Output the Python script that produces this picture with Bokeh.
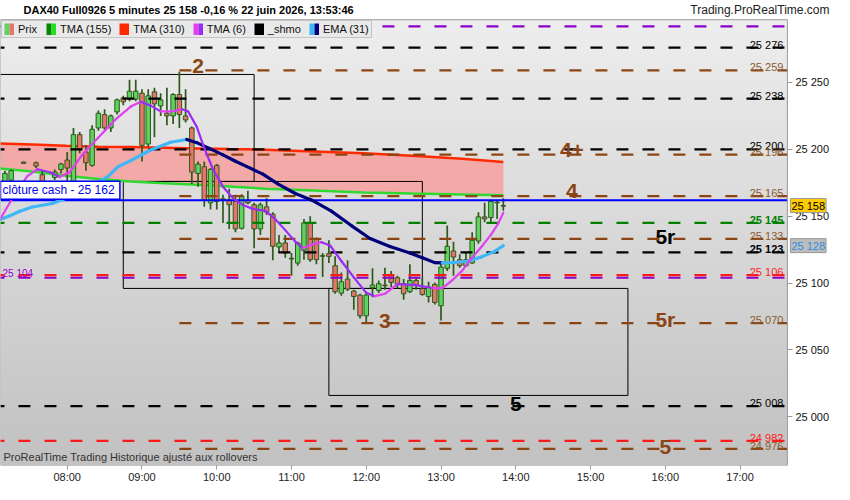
import numpy as np
from bokeh.plotting import figure
from bokeh.models import (Range1d, FixedTicker, Label, Legend, LegendItem,
                          ColumnDataSource, LinearAxis)
from bokeh.core.properties import value
from bokeh.embed import file_html
from bokeh.resources import INLINE

FONT = "Liberation Sans"

# ------------------------------------------------------------------ data
candle_time = ["07:10","07:15","07:25","07:35","07:40","07:45","07:50","07:55",
               "08:00","08:05","08:10","08:15","08:20","08:25","08:30","08:35","08:40","08:45","08:50","08:55",
               "09:00","09:05","09:10","09:15","09:20","09:25","09:30","09:35","09:40","09:45","09:50","09:55",
               "10:00","10:05","10:10","10:15","10:20","10:25","10:30","10:35","10:40","10:45","10:50","10:55",
               "11:00","11:05","11:10","11:15","11:20","11:25","11:30","11:35","11:40","11:45","11:50","11:55",
               "12:00","12:05","12:10","12:15","12:20","12:25","12:30","12:35","12:40","12:45","12:50","12:55",
               "13:00","13:05","13:10","13:15","13:20","13:25","13:30","13:35","13:40","13:45","13:50"]
candle_open = [25175, 25177, 25190.5, 25190, 25181, 25175, 25179, 25185,
               25192, 25176, 25211, 25198, 25188, 25216, 25226, 25216, 25228, 25238.5, 25238, 25237.5,
               25242, 25204, 25243, 25232.5, 25227, 25225, 25241, 25225, 25216, 25182, 25187, 25160,
               25188, 25163, 25162, 25161, 25141, 25162, 25158.5, 25140.5, 25157, 25151.5, 25127, 25130,
               25118.5, 25115, 25124.5, 25145, 25133, 25120.5, 25122, 25113, 25092.5, 25103, 25094, 25091,
               25075.5, 25096.5, 25094.5, 25098.5, 25106, 25104, 25099.5, 25093.5, 25102, 25096, 25090, 25099,
               25083, 25111, 25124, 25117.5, 25113, 25115, 25131.5, 25149.5, 25149, 25160.5, 25157.5]
candle_high = [25184, 25185, 25191, 25191, 25184, 25176, 25185, 25190,
               25198, 25216, 25213, 25203, 25218, 25229, 25230, 25226, 25238, 25240, 25252, 25252,
               25245, 25245, 25246, 25242, 25246, 25242, 25258, 25245, 25217, 25191, 25191, 25186,
               25189, 25166, 25170.5, 25166, 25166.5, 25169, 25160, 25160, 25163.5, 25153, 25136, 25136,
               25122.5, 25131, 25148, 25150, 25134, 25122.5, 25132, 25120, 25108, 25117, 25095, 25092,
               25093.5, 25111, 25102, 25111.5, 25109, 25105.5, 25103, 25114, 25104.5, 25104, 25101, 25100.5,
               25115, 25143, 25131, 25121.5, 25122.5, 25138, 25153, 25160, 25162.5, 25162, 25163.5]
candle_low = [25173, 25176, 25189, 25186, 25172, 25170, 25177, 25182,
              25176, 25175, 25197, 25184, 25187, 25214, 25214, 25213, 25226, 25233, 25236, 25236,
              25191, 25202, 25209, 25225, 25218, 25219, 25216, 25220, 25174, 25172, 25157, 25155,
              25155, 25145, 25140.5, 25138, 25140, 25159, 25126, 25136, 25151, 25117, 25122.5, 25119,
              25105.5, 25113, 25117.5, 25116, 25114, 25104.5, 25115, 25092, 25090.5, 25094, 25080, 25073.5,
              25070, 25089.5, 25092.5, 25095, 25097, 25096, 25087.5, 25092.5, 25095, 25090.5, 25085.5, 25084,
              25072, 25109, 25105.5, 25111.5, 25112, 25114.5, 25129.5, 25145.5, 25145, 25148, 25154]
candle_close = [25182, 25184, 25189.5, 25187.5, 25174, 25172, 25183, 25189,
                25186, 25211, 25200, 25190, 25215, 25227, 25216, 25225, 25237, 25235.5, 25243.5, 25243.5,
                25203, 25240, 25234, 25237, 25225, 25241, 25226, 25222, 25183, 25189, 25162, 25185,
                25161, 25162, 25158.5, 25140.5, 25165, 25160, 25140.5, 25158.5, 25153, 25127.5, 25130, 25122.5,
                25118, 25130, 25145, 25117.5, 25117.5, 25120, 25120, 25093.5, 25101, 25095.5, 25090, 25075.5,
                25091, 25098.5, 25099.5, 25098, 25100.5, 25099, 25092, 25102, 25098.5, 25091.5, 25097, 25085.5,
                25112, 25127.5, 25119.5, 25113, 25117.5, 25132, 25149.5, 25148, 25161, 25160, 25158]

# TMA (155) and TMA (310)
tma_time = ["07:06","07:32","07:59","08:25","08:51","09:18","09:44","10:10","10:39",
            "11:18","11:58","12:37","13:17","13:50"]
tma155 = [25185.6, 25183.4, 25180.2, 25177.9, 25175.9, 25174.7, 25173.5, 25172.3, 25170.6,
          25169.3, 25167.8, 25167.0, 25166.3, 25165.6]
tma310 = [25204.3, 25203.6, 25202.6, 25201.9, 25201.7, 25201.2, 25200.7, 25200.2, 25199.7,
          25198.4, 25197.0, 25195.2, 25193.0, 25190.5]

# TMA (6)
tma6_time = ["07:06","07:17","07:28","07:36","07:46","07:54","08:02","08:12","08:25","08:39",
             "08:51","08:59","09:07","09:15","09:24","09:32","09:37","09:44","09:50","09:57",
             "10:05","10:13","10:21","10:29","10:39","10:47","10:55","11:03","11:09","11:16",
             "11:24","11:31","11:40","11:50","12:00","12:07","12:15","12:25","12:40","12:53",
             "13:01","13:09","13:17","13:24","13:32","13:40","13:46","13:50"]
tma6 = [25147.5, 25164.9, 25180.0, 25185.1, 25182.9, 25179.3, 25182.9, 25195.9, 25208.9, 25222.6,
        25232.0, 25235.6, 25232.7, 25228.4, 25228.4, 25230.0, 25228.4, 25216.8, 25200.9, 25185.1,
        25172.1, 25163.4, 25158.4, 25155.5, 25154.0, 25147.8, 25139.6, 25131.0, 25126.1, 25128.8,
        25130.6, 25128.1, 25116.5, 25104.3, 25092.7, 25090.2, 25092.0, 25099.2, 25098.5, 25096.3,
        25096.3, 25102.1, 25109.3, 25118.0, 25126.6, 25136.0, 25144.7, 25152.6]

# EMA (31)
ema_time = ["07:06","07:14","07:22","07:32","07:48","07:59","08:09","08:17","08:25","08:33",
            "08:41","08:51","09:07","09:23","09:36","09:44","09:54","10:05","10:15","10:26",
            "10:37","10:49","11:03","11:16","11:32","11:48","12:03","12:19","12:35","12:45",
            "12:55","13:01","13:11","13:22","13:32","13:43","13:50"]
ema31 = [25147.5, 25150.4, 25153.7, 25156.9, 25159.5, 25163.4, 25167.0, 25171.4, 25175.3, 25180.0,
         25187.2, 25191.6, 25199.5, 25205.3, 25207.4, 25205.0, 25200.7, 25195.9, 25191.1, 25186.3,
         25181.5, 25174.2, 25167.0, 25162.2, 25153.8, 25143.0, 25133.3, 25127.3, 25122.5, 25118.9,
         25115.3, 25115.1, 25115.4, 25116.5, 25119.4, 25123.7, 25128.0]

# horizontal levels (_shmo)
level_price = [25292, 25276, 25259, 25238, 25200, 25196, 25165, 25145, 25133, 25123,
               25106, 25104, 25070, 25008, 24982, 24976]
level_kind = ["violet", "noir", "brun", "noir", "noir", "brun", "brun", "vert", "brun", "noir",
              "rouge", "violet", "brun", "noir", "rouge", "brun"]
level_start = ["07:00", "07:00", "09:30", "07:00", "07:00", "09:30", "09:30", "07:00", "09:30", "07:00",
               "07:00", "07:00", "09:30", "07:00", "07:00", "09:30"]
bold_levels = [25145, 25123]
left_label_levels = [25104]
cash_close = 25162

# zones
zone_start = ["06:30", "08:45", "11:30"]
zone_end = ["10:30", "12:45", "15:30"]
zone_top = [25256, 25176, 25096]
zone_bottom = [25176, 25096, 25016]

# wave labels
wave_text = ["2", "4+", "4", "5r", "5r", "3", "5", "5"]
wave_time = ["09:45", "14:45", "14:45", "16:00", "16:00", "12:15", "14:00", "16:00"]
wave_price = [25262, 25199.5, 25168.5, 25134.5, 25072.5, 25072, 25009.5, 24977.5]
wave_kind = ["brun", "brun", "brun", "noir", "brun", "brun", "noir", "brun"]

x_tick_labels = ["08:00", "09:00", "10:00", "11:00", "12:00", "13:00", "14:00", "15:00", "16:00", "17:00"]
y_ticks = [25000, 25050, 25100, 25150, 25200, 25250]

legend_labels = ["Prix", "TMA (155)", "TMA (310)", "TMA (6)", "_shmo", "EMA (31)"]

title_text = "DAX40 Full0926 5 minutes 25 158 -0,16 % 22 juin 2026, 13:53:46"
site_text = "Trading.ProRealTime.com"
footer_text = "ProRealTime Trading  Historique ajusté aux rollovers"

# window: chart area plus the price-scale strip on the right and the title strip on top
x_start, x_plot_end, x_end = 7.1076, 17.633, 18.263
y_start, y_plot_top, y_end = 24963.6, 25296.9, 25311.3

# ------------------------------------------------------------------ styles
LINE_COL = {"noir": "#000000", "brun": "#8b4513", "vert": "#008000", "rouge": "#ff1a1a", "violet": "#8a00cc"}
TEXT_COL = {"noir": "#000000", "brun": "#8b5a2b", "vert": "#008000", "rouge": "#ff2020", "violet": "#9a00cc"}
WAVE_COL = {"noir": "#000000", "brun": "#8b4513"}
FRAME_H = 465


def hours(t):
    h, m = t.split(":")
    return int(h) + int(m) / 60.0


def fmt(v):
    return f"{int(round(v)):,}".replace(",", " ")


p = figure(frame_width=834, frame_height=FRAME_H, output_backend="svg", toolbar_location=None,
           x_range=Range1d(x_start, x_end), y_range=Range1d(y_start, y_end),
           y_axis_location=None, min_border=0,
           background_fill_color="white", border_fill_color="white")
p.grid.visible = False
p.outline_line_color = None

# background gradient of the chart area
n = 120
grad = np.zeros((n, 1), dtype=np.uint32)
view = grad.view(dtype=np.uint8).reshape((n, 1, 4))
shade = np.linspace(194, 238, n).astype(np.uint8)
view[:, 0, 0] = shade
view[:, 0, 1] = shade
view[:, 0, 2] = shade
view[:, 0, 3] = 255
p.image_rgba(image=[grad], x=x_start, y=y_start, dw=x_plot_end - x_start, dh=y_plot_top - y_start)

# pink band between TMA(155) and TMA(310)
tx = [hours(t) for t in tma_time]
p.varea(x=tx, y1=tma155, y2=tma310, fill_color="#f4a9a9", fill_alpha=1.0)

# zones
p.quad(left=[hours(t) for t in zone_start], right=[hours(t) for t in zone_end],
       top=zone_top, bottom=zone_bottom, fill_alpha=0, line_color="black", line_width=1)

# TMA lines
p.line(tx, tma310, line_color="#ff2a00", line_width=2.5)
p.line(tx, tma155, line_color="#30d830", line_width=2.5)

# candles
cx = [hours(t) for t in candle_time]
src = ColumnDataSource(dict(
    x=cx, h=candle_high, l=candle_low,
    top=[max(o, c) for o, c in zip(candle_open, candle_close)],
    bottom=[min(o, c) for o, c in zip(candle_open, candle_close)],
    fill=["#5ed35e" if c >= o else "#e6756a" for o, c in zip(candle_open, candle_close)]))
p.segment(x0="x", y0="h", x1="x", y1="l", source=src, line_color="#2d5a1b", line_width=1.7)
p.vbar(x="x", top="top", bottom="bottom", width=0.06, fill_color="fill",
       line_color="#2d5a1b", line_width=1, source=src)

# levels
lx0 = [hours(t) for t in level_start]
p.segment(x0=lx0, y0=level_price, x1=[x_plot_end] * len(level_price), y1=level_price,
          line_color=[LINE_COL[k] for k in level_kind], line_width=2.2, line_dash="12 14")
p.segment(x0=[x_start], y0=[cash_close], x1=[x_plot_end], y1=[cash_close],
          line_color="#0000ff", line_width=2)


def two_tone(times, vals, up, down, width):
    xs = [hours(t) for t in times]
    cols = [up if b >= a else down for a, b in zip(vals[:-1], vals[1:])]
    p.segment(x0=xs[:-1], y0=vals[:-1], x1=xs[1:], y1=vals[1:], line_color=cols,
              line_width=width, line_cap="round")


two_tone(ema_time, ema31, "#3fb6f5", "#00007a", 3.2)
two_tone(tma6_time, tma6, "#e040f0", "#9a2cf5", 2.2)

# chart-area border
p.quad(left=[x_start], right=[x_plot_end], top=[y_plot_top], bottom=[y_start],
       fill_alpha=0, line_color="#9a9a9a", line_width=1)

# level values
right_idx = [i for i, k in enumerate(level_kind) if k != "violet"]
left_idx = [i for i, v in enumerate(level_price) if v in left_label_levels]
for bold in (False, True):
    idx = [i for i in right_idx if (level_price[i] in bold_levels) == bold]
    p.text(x=[x_plot_end] * len(idx), y=[level_price[i] for i in idx],
           text=[fmt(level_price[i]) for i in idx],
           text_color=[TEXT_COL[level_kind[i]] for i in idx],
           text_align="right", text_baseline="alphabetic", x_offset=-4, y_offset=-3,
           text_font=value(FONT), text_font_size="11px",
           text_font_style="bold" if bold else "normal")
p.text(x=[x_start] * len(left_idx), y=[level_price[i] for i in left_idx],
       text=[fmt(level_price[i]) for i in left_idx],
       text_color=[TEXT_COL[level_kind[i]] for i in left_idx],
       text_align="left", text_baseline="alphabetic", x_offset=2, y_offset=-4,
       text_font=value(FONT), text_font_size="10px")

# wave labels
p.text(x=[hours(t) for t in wave_time], y=wave_price, text=wave_text,
       text_color=[WAVE_COL[k] for k in wave_kind], text_align="center", text_baseline="middle",
       text_font=value(FONT), text_font_size="21px", text_font_style="bold")

# cash close label
p.add_layout(Label(x=x_start, y=cash_close, y_offset=1, text="clôture cash -  " + fmt(cash_close),
                   text_color="#0000ee", text_font=FONT, text_font_size="12px",
                   text_baseline="bottom", background_fill_color="white",
                   border_line_color="#0000ff", border_line_width=1.5, padding=2))

# price tags on the price scale
p.add_layout(Label(x=x_plot_end, y=candle_close[-1], x_offset=3, text=fmt(candle_close[-1]),
                   text_color="black", text_font=FONT, text_font_size="11px",
                   text_baseline="middle", background_fill_color="#ffcc00",
                   border_line_color="#999999", padding=1))
p.add_layout(Label(x=x_plot_end, y=ema31[-1], x_offset=3, text=fmt(ema31[-1]),
                   text_color="#2a8ee0", text_font=FONT, text_font_size="11px",
                   text_baseline="middle", background_fill_color="#bdbdbd",
                   border_line_color="#999999", padding=1))

# title strip / footer
band_mid = (y_plot_top + y_end) / 2
p.add_layout(Label(x=x_start, y=band_mid, x_offset=23, text=title_text,
                   text_font=FONT, text_font_size="11px", text_font_style="bold",
                   text_color="black", text_baseline="middle"))
p.add_layout(Label(x=x_end, y=band_mid, x_offset=-5, text=site_text,
                   text_font=FONT, text_font_size="12px", text_color="#222222",
                   text_align="right", text_baseline="middle"))
p.add_layout(Label(x=x_start, y=y_start, x_offset=3, y_offset=3, text=footer_text,
                   text_font=FONT, text_font_size="11px", text_color="#333333",
                   text_baseline="bottom"))

# legend with two-colour icons
icon_cols = [["#5ed35e", "#e6756a"], ["#008800", "#22dd22"], ["#ff2a00"],
             ["#e040f0", "#9a2cf5"], ["#000000"], ["#3fb6f5", "#00007a"]]
items = []
for lab, cols in zip(legend_labels, icon_cols):
    rs = []
    for k, c in enumerate(cols):
        if len(cols) > 1:
            r = p.line(x=[np.nan], y=[np.nan], line_color=c, line_width=12,
                       line_dash="5 5", line_dash_offset=5 * k)
        else:
            r = p.line(x=[np.nan], y=[np.nan], line_color=c, line_width=12)
        rs.append(r)
    items.append(LegendItem(label=lab, renderers=rs))
legend = Legend(items=items, orientation="horizontal", location=(1, FRAME_H - 21 - 17),
                label_text_font=FONT, label_text_font_size="11px", label_text_color="#111111",
                glyph_width=10, glyph_height=12, label_standoff=4, spacing=8,
                padding=2, margin=0, label_height=12,
                background_fill_color="#e9e9e9", background_fill_alpha=1,
                border_line_color="#a0a0a0")
p.add_layout(legend)

# axes
p.xaxis.ticker = FixedTicker(ticks=[int(hours(t)) for t in x_tick_labels])
p.xaxis.major_label_overrides = {int(hours(t)): t for t in x_tick_labels}
p.xaxis.major_label_text_font = FONT
p.xaxis.major_label_text_font_size = "11px"
p.xaxis.major_label_text_color = "#222222"
p.xaxis.axis_line_color = None
p.xaxis.major_tick_line_color = "#999999"
p.xaxis.major_tick_out = 4
p.xaxis.major_tick_in = 0
p.xaxis.minor_tick_line_color = None
p.xaxis.major_label_standoff = 1

yax = LinearAxis(fixed_location=x_plot_end, ticker=FixedTicker(ticks=y_ticks),
                 major_label_overrides={v: fmt(v) for v in y_ticks},
                 major_label_text_font=FONT, major_label_text_font_size="11px",
                 major_label_text_color="#111111", axis_line_color=None,
                 major_tick_line_color="#999999", major_tick_out=5, major_tick_in=0,
                 minor_tick_line_color=None, major_label_standoff=3)
p.add_layout(yax, "right")

open("out.html", "w").write(file_html(p, INLINE))
